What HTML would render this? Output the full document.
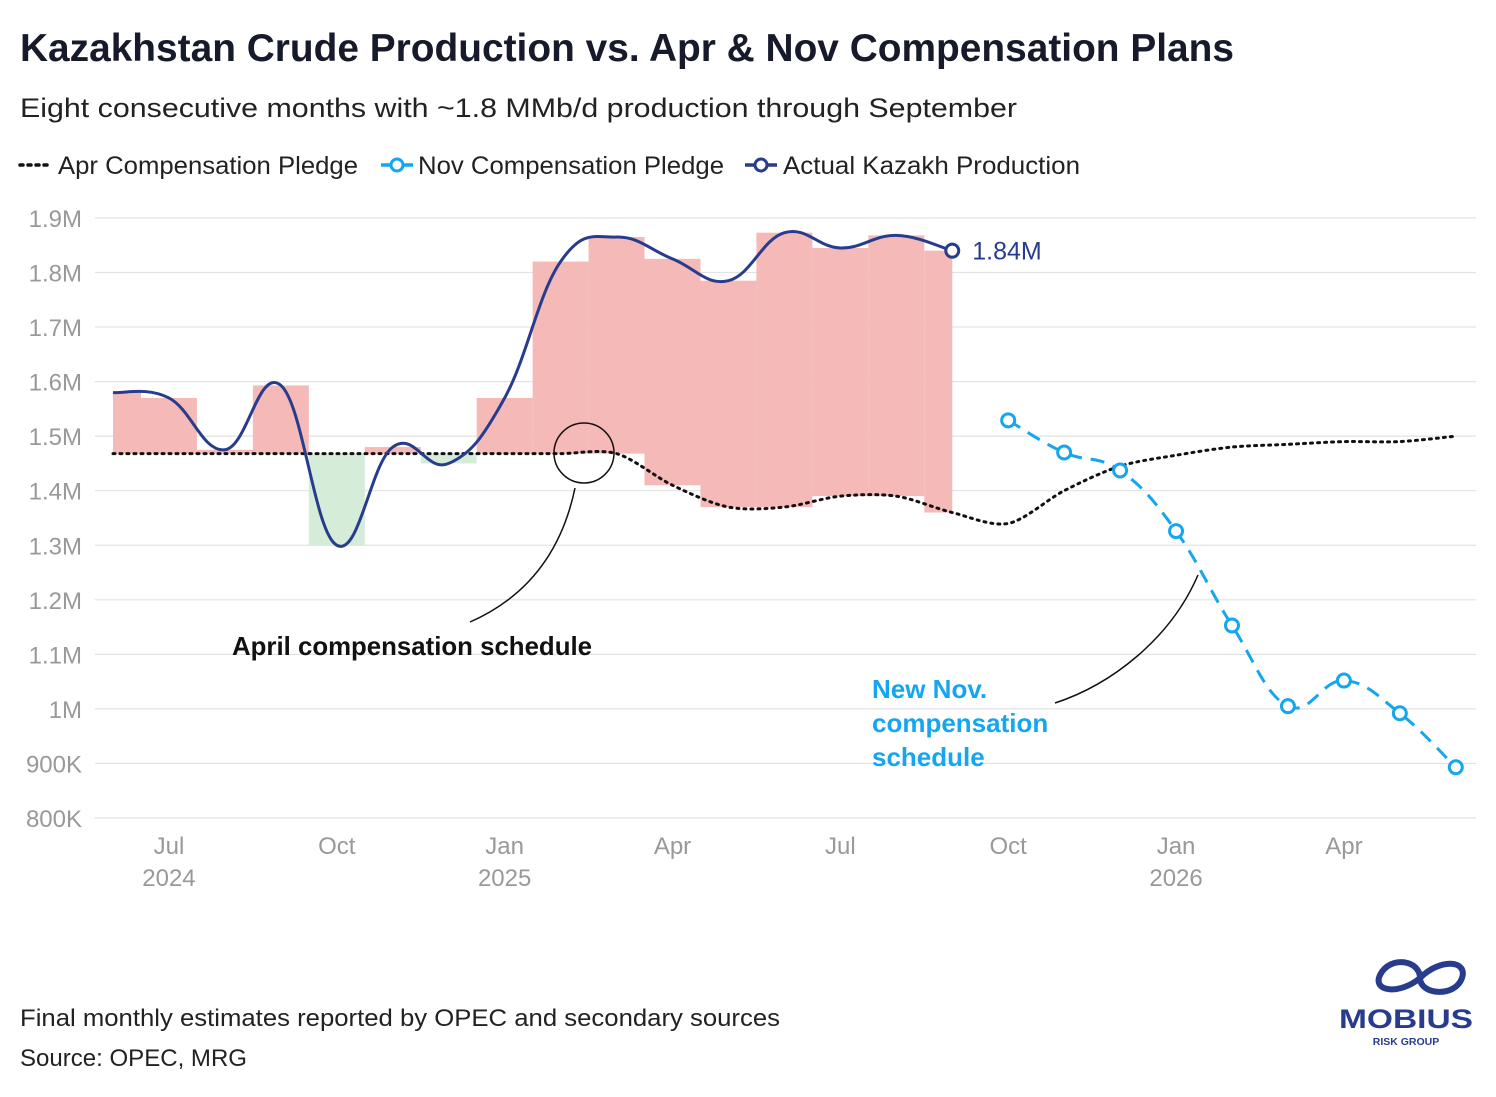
<!DOCTYPE html>
<html><head><meta charset="utf-8"><style>
html,body{margin:0;padding:0;background:#fff;}
body{width:1496px;height:1092px;overflow:hidden;font-family:"Liberation Sans",sans-serif;}
</style></head><body>
<svg id="chart" width="1496" height="1092" xmlns="http://www.w3.org/2000/svg" font-family="Liberation Sans, sans-serif">
<text x="20" y="61" font-size="39" font-weight="bold" fill="#161a2b" textLength="1214" lengthAdjust="spacingAndGlyphs">Kazakhstan Crude Production vs. Apr &amp; Nov Compensation Plans</text>
<text x="20" y="117" font-size="27" fill="#222" textLength="997" lengthAdjust="spacingAndGlyphs">Eight consecutive months with ~1.8 MMb/d production through September</text>
<g>
 <g><line x1="20" y1="165" x2="52" y2="165" stroke="#111" stroke-width="3.5" stroke-dasharray="3,5" stroke-linecap="round"/><text x="58" y="174" font-size="25" fill="#222" textLength="300" lengthAdjust="spacingAndGlyphs">Apr Compensation Pledge</text></g>
 <g><line x1="381" y1="165" x2="413" y2="165" stroke="#14a6ee" stroke-width="3.5"/><circle cx="397" cy="165" r="6" fill="#fff" stroke="#14a6ee" stroke-width="3"/><text x="418" y="174" font-size="25" fill="#222" textLength="306" lengthAdjust="spacingAndGlyphs">Nov Compensation Pledge</text></g>
 <g><line x1="745" y1="165" x2="777" y2="165" stroke="#283c8e" stroke-width="3.5"/><circle cx="761" cy="165" r="6" fill="#fff" stroke="#283c8e" stroke-width="3"/><text x="783" y="174" font-size="25" fill="#222" textLength="297" lengthAdjust="spacingAndGlyphs">Actual Kazakh Production</text></g>
</g>
<g id="grid"></g><g id="bars"></g><g id="lines"></g><g id="xaxis"></g>
<g>
 <circle cx="584" cy="453" r="30" fill="none" stroke="#111" stroke-width="1.5"/>
 <path d="M575,488 C560,560 520,600 470,622" fill="none" stroke="#111" stroke-width="1.5"/>
 <text x="232" y="655" font-size="26" font-weight="bold" fill="#111" textLength="360" lengthAdjust="spacingAndGlyphs">April compensation schedule</text>
</g>
<g>
 <path d="M1198,575 C1170,640 1110,685 1055,703" fill="none" stroke="#111" stroke-width="1.5"/>
 <text font-size="26" font-weight="bold" fill="#14a6ee"><tspan x="872" y="698">New Nov.</tspan><tspan x="872" y="732">compensation</tspan><tspan x="872" y="766">schedule</tspan></text>
</g>
<text x="20" y="1026" font-size="24" fill="#222" textLength="760" lengthAdjust="spacingAndGlyphs">Final monthly estimates reported by OPEC and secondary sources</text>
<text x="20" y="1066" font-size="24" fill="#222" textLength="227" lengthAdjust="spacingAndGlyphs">Source: OPEC, MRG</text>
<g>
 <path d="M1380,975 C1390,955 1420,960 1420,978 C1420,995 1455,998 1462,978 C1468,960 1440,958 1420,978 C1400,995 1372,992 1380,975Z" fill="none" stroke="#283c8e" stroke-width="6"/>
 <text x="1406" y="1028" font-size="27" font-weight="bold" fill="#283c8e" text-anchor="middle" textLength="134" lengthAdjust="spacingAndGlyphs">MOBIUS</text>
 <text x="1406" y="1045" font-size="10.5" font-weight="bold" fill="#283c8e" text-anchor="middle">RISK GROUP</text>
</g>
</svg>
<script>
const yTicks=[800000,900000,1000000,1100000,1200000,1300000,1400000,1500000,1600000,1700000,1800000,1900000];
const yTickLabels=["800K","900K","1M","1.1M","1.2M","1.3M","1.4M","1.5M","1.6M","1.7M","1.8M","1.9M"];
const xTickMonths=[1,4,7,10,13,16,19,22];
const xTickLabels=[["Jul","2024"],["Oct",""],["Jan","2025"],["Apr",""],["Jul",""],["Oct",""],["Jan","2026"],["Apr",""]];
// month index 0 = Jun 2024
const actual=[1580000,1570000,1475000,1593000,1300000,1480000,1450000,1570000,1820000,1865000,1825000,1785000,1873000,1845000,1868000,1840000];
const aprPledge=[1468000,1468000,1468000,1468000,1468000,1468000,1468000,1468000,1468000,1468000,1410000,1370000,1370000,1390000,1390000,1360000,1340000,1400000,1445000,1465000,1480000,1485000,1490000,1490000,1500000];
const novStart=16;
const novPledge=[1529000,1470000,1437000,1326000,1153000,1005000,1052000,992000,893000];
const lastLabel="1.84M";

const NS="http://www.w3.org/2000/svg";
const x=m=>113+m*55.95;
const y=v=>818-(v-800000)/100000*54.55;
function mk(tag,attrs,parent){const e=document.createElementNS(NS,tag);for(const k in attrs)e.setAttribute(k,attrs[k]);document.getElementById(parent).appendChild(e);return e;}
function smooth(pts,t){t=t||0.2;let d=`M${pts[0][0]},${pts[0][1]}`;for(let i=0;i<pts.length-1;i++){const p0=pts[Math.max(0,i-1)],p1=pts[i],p2=pts[i+1],p3=pts[Math.min(pts.length-1,i+2)];d+=` C${p1[0]+(p2[0]-p0[0])*t},${p1[1]+(p2[1]-p0[1])*t} ${p2[0]-(p3[0]-p1[0])*t},${p2[1]-(p3[1]-p1[1])*t} ${p2[0]},${p2[1]}`;}return d;}
yTicks.forEach((v,i)=>{
 const l=mk('line',{x1:95,x2:1476,y1:y(v),y2:y(v),stroke:'#e2e2e2','stroke-width':1.2},'grid');
 
 
 const t=mk('text',{x:82,y:y(v)+9,'font-size':24,fill:'#999','text-anchor':'end'},'grid');
 t.textContent=yTickLabels[i];
 
 
});
actual.forEach((v,i)=>{
 const p=aprPledge[i];
 const x0=Math.max(x(0),x(i-0.5)),x1=Math.min(x(actual.length-1),x(i+0.5));
 const r=mk('rect',{x:x0,width:x1-x0,y:y(Math.max(v,p)),height:Math.abs(y(v)-y(p)),fill:v>=p?'#f5b9b7':'#d5ecd9'},'bars');
 
 
});
const ap=mk('path',{d:smooth(aprPledge.map((v,i)=>[x(i),y(v)]),0.15),fill:'none',stroke:'#111','stroke-width':3,'stroke-dasharray':'2,5','stroke-linecap':'round'},'lines');


const nv=mk('path',{d:smooth(novPledge.map((v,i)=>[x(novStart+i),y(v)])),fill:'none',stroke:'#14a6ee','stroke-width':3,'stroke-dasharray':'14,9'},'lines');


novPledge.forEach((v,i)=>{
 const c=mk('circle',{cx:x(novStart+i),cy:y(v),r:6.5,fill:'#fff',stroke:'#14a6ee','stroke-width':3},'lines');
 
 
});
const ac=mk('path',{d:smooth(actual.map((v,i)=>[x(i),y(v)])),fill:'none',stroke:'#283c8e','stroke-width':3},'lines');


const li=actual.length-1;
const lc=mk('circle',{cx:x(li),cy:y(actual[li]),r:6.5,fill:'#fff',stroke:'#283c8e','stroke-width':3},'lines');


const lt=mk('text',{x:x(li)+20,y:y(actual[li])+9,'font-size':25,fill:'#283c8e'},'lines');
lt.textContent=lastLabel;


xTickMonths.forEach((m,i)=>{
 const t=mk('text',{x:x(m),y:854,'font-size':24,fill:'#999','text-anchor':'middle'},'xaxis');
 t.textContent=xTickLabels[i][0];
 
 
 if(xTickLabels[i][1]){const t2=mk('text',{x:x(m),y:886,'font-size':24,fill:'#999','text-anchor':'middle'},'xaxis');t2.textContent=xTickLabels[i][1];
 
 }
});
</script>
</body></html>
